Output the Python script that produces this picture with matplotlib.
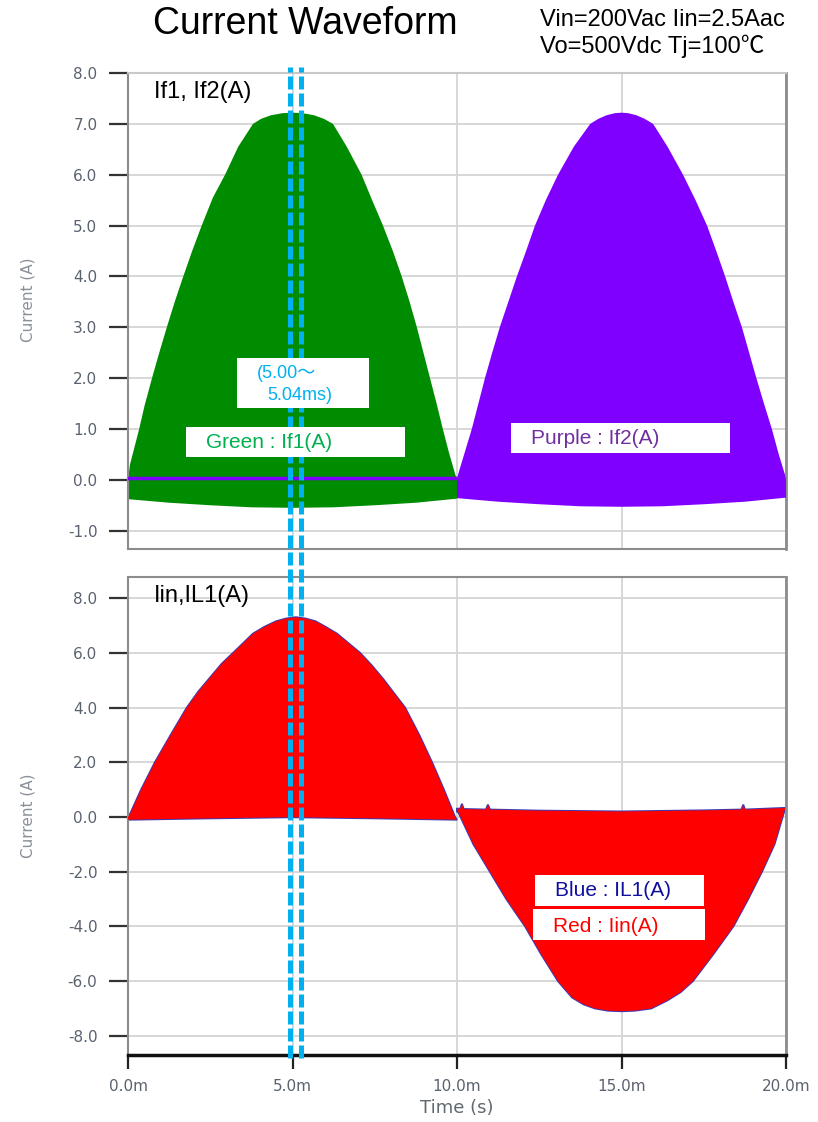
import matplotlib
matplotlib.use("Agg")
import matplotlib.pyplot as plt
from matplotlib.patches import Rectangle

# ---- data (time in ms, current in A) ----
# If1 (green): upper / lower envelope of the PWM switch current
t_if1_hi = [0.0, 0.06, 0.34, 0.5, 0.73, 0.95, 1.18, 1.42, 1.68, 1.95, 2.24, 2.58, 2.95, 3.35, 3.8,
            4.05, 4.35, 4.7, 5.0, 5.3, 5.65, 5.95, 6.23, 6.65, 7.1, 7.42, 7.75, 8.05, 8.32,
            8.56, 8.78, 8.98, 9.18, 9.38, 9.57, 9.75, 9.95, 10.0]
if1_hi = [0.0, 0.3, 1.0, 1.45, 2.0, 2.5, 3.0, 3.5, 4.0, 4.5, 5.0, 5.55, 6.0, 6.55, 7.0,
          7.1, 7.17, 7.21, 7.22, 7.21, 7.17, 7.1, 7.0, 6.55, 6.0, 5.5, 5.0, 4.5, 4.0,
          3.5, 3.0, 2.5, 2.0, 1.5, 1.0, 0.55, 0.1, 0.0]
t_if1_lo = [0.0, 1.25, 2.5, 3.75, 5.0, 6.25, 7.5, 8.75, 10.0]
if1_lo = [-0.38, -0.45, -0.50, -0.54, -0.55, -0.54, -0.50, -0.45, -0.37]

# If2 (purple)
t_if2_hi = [10.0, 10.03, 10.45, 10.65, 10.85, 11.07, 11.3, 11.56, 11.82, 12.1, 12.37, 12.7, 13.07,
            13.55, 14.05, 14.3, 14.55, 14.8, 15.0, 15.2, 15.45, 15.7, 15.96, 16.4, 16.87, 17.25,
            17.6, 17.88, 18.15, 18.4, 18.66, 18.88, 19.1, 19.33, 19.57, 19.78, 19.97, 20.0]
if2_hi = [0.0, 0.1, 1.0, 1.5, 2.0, 2.5, 3.0, 3.5, 4.0, 4.5, 5.0, 5.5, 6.0,
          6.55, 7.0, 7.1, 7.17, 7.21, 7.22, 7.21, 7.17, 7.1, 7.0, 6.55, 6.0, 5.5,
          5.0, 4.5, 4.0, 3.5, 3.0, 2.5, 2.0, 1.5, 1.0, 0.5, 0.1, 0.0]
t_if2_lo = [10.0, 11.25, 12.5, 13.75, 15.0, 16.25, 17.5, 18.75, 20.0]
if2_lo = [-0.36, -0.43, -0.48, -0.52, -0.53, -0.52, -0.48, -0.43, -0.35]

# each switch carries ~0 A in the other half cycle
t_if2_idle = [0.0, 10.0]
if2_idle = [0.03, 0.03]
t_if1_idle = [10.0, 20.0]
if1_idle = [0.03, 0.03]

# Iin (red) / IL1 (blue), positive half
t_pos_hi = [0.0, 0.06, 0.4, 0.82, 1.3, 1.79, 2.15, 2.5, 2.85, 3.2, 3.5, 3.8, 4.15, 4.5, 4.8, 5.1,
            5.4, 5.7, 6.0, 6.35, 6.7, 7.05, 7.4, 7.75, 8.1, 8.42, 8.85, 9.24, 9.6, 9.94, 10.0]
iin_pos_hi = [0.0, 0.1, 1.0, 2.0, 3.0, 4.0, 4.6, 5.1, 5.6, 6.0, 6.35, 6.7, 6.95, 7.15, 7.25, 7.3,
              7.25, 7.15, 6.95, 6.7, 6.35, 6.0, 5.55, 5.05, 4.5, 4.0, 3.0, 2.0, 1.0, 0.0, -0.1]
t_pos_lo = [0.0, 2.5, 5.0, 7.5, 10.0]
iin_pos_lo = [-0.1, -0.05, -0.01, -0.05, -0.1]

# negative half
t_neg_lo = [10.0, 10.03, 10.5, 11.0, 11.5, 12.07, 12.55, 13.07, 13.5, 13.85, 14.2, 14.6, 15.0,
            15.4, 15.9, 16.4, 16.8, 17.17, 17.8, 18.4, 18.85, 19.27, 19.65, 19.97]
iin_neg_lo = [0.2, 0.2, -1.0, -2.0, -3.0, -4.0, -5.0, -6.0, -6.6, -6.85, -7.0, -7.08, -7.1,
              -7.08, -7.0, -6.7, -6.4, -6.0, -5.0, -4.0, -3.0, -2.0, -1.0, 0.3]
# upper rim, with the few switching spikes that stick out
t_neg_hi = [10.0, 10.1, 10.15, 10.2, 10.88, 10.94, 11.0, 12.5, 15.0, 17.5,
            18.65, 18.7, 18.75, 19.97]
iin_neg_hi = [0.3, 0.3, 0.48, 0.29, 0.27, 0.45, 0.27, 0.23, 0.2, 0.24,
              0.27, 0.45, 0.27, 0.33]

cursor_ms = [4.93, 5.26]

x_ticks = [0, 5, 10, 15, 20]
x_ticklabels = ["0.0m", "5.0m", "10.0m", "15.0m", "20.0m"]
top_yticks = [-1, 0, 1, 2, 3, 4, 5, 6, 7, 8]
bot_yticks = [-8, -6, -4, -2, 0, 2, 4, 6, 8]

plt.rcParams["font.family"] = ["Liberation Sans", "Noto Sans CJK JP", "DejaVu Sans"]

W, H = 818, 1122


def fx(x):
    return x / W


def fy(y):
    return 1 - y / H


def band(ax, t_hi, hi, t_lo, lo, **kw):
    # closed outline: upper envelope forward, lower envelope back
    xs = list(t_hi) + list(t_lo)[::-1]
    ys = list(hi) + list(lo)[::-1]
    return ax.fill(xs, ys, **kw)


fig = plt.figure(figsize=(W / 100, H / 100), dpi=100)
ax1 = fig.add_axes([fx(128), fy(549), 658 / W, 476 / H])
ax2 = fig.add_axes([fx(128), fy(1055), 658 / W, 478 / H])

tick_font = dict(family="DejaVu Sans", size=11, color="#5a6270")
grid_col = "#d4d4d4"

for ax in (ax1, ax2):
    ax.set_xlim(0, 20)
    ax.set_xticks(x_ticks)
    ax.grid(True, color=grid_col, linewidth=1.3)
    ax.set_axisbelow(True)
    for s in ("left", "top", "right", "bottom"):
        ax.spines[s].set_color("#8c8c8c")
        ax.spines[s].set_linewidth(1.5)
    ax.spines["right"].set_linewidth(2)
    ax.tick_params(axis="y", direction="out", length=14, width=1.6,
                   color="#333333", pad=8)
    ax.set_ylabel("Current (A)", family="DejaVu Sans", size=11, color="#8a9098")

ax1.yaxis.set_label_coords(-0.141, 0.523)
ax2.yaxis.set_label_coords(-0.141, 0.5)

# ---- top panel: If1 / If2 ----
ax1.set_ylim(-1.36, 8.0)
ax1.set_yticks(top_yticks)
ax1.set_yticklabels([f"{v:.1f}" for v in top_yticks], **tick_font)
ax1.tick_params(axis="x", length=0, labelbottom=False)
ax1.spines["top"].set_color("#c8c8c8")

band(ax1, t_if1_hi, if1_hi, t_if1_lo, if1_lo, facecolor="#008c00", edgecolor="none", zorder=2)
ax1.plot(t_if1_idle, if1_idle, color="#008c00", linewidth=2.5, zorder=2)
band(ax1, t_if2_hi, if2_hi, t_if2_lo, if2_lo, facecolor="#8000ff", edgecolor="none", zorder=3)
ax1.plot(t_if2_idle, if2_idle, color="#8000ff", linewidth=2.5, zorder=4)

ax1.text(0.04, 0.984, "If1, If2(A)", transform=ax1.transAxes, fontsize=17,
         va="top", ha="left", color="black")

# ---- bottom panel: Iin / IL1 ----
ax2.set_ylim(-8.7, 8.77)
ax2.set_yticks(bot_yticks)
ax2.set_yticklabels([f"{v:.1f}" for v in bot_yticks], **tick_font)
ax2.set_xticklabels(x_ticklabels, **tick_font)
ax2.tick_params(axis="x", direction="out", length=10, width=1.6,
                color="#222222", pad=7)
ax2.spines["bottom"].set_color("#111111")
ax2.spines["bottom"].set_linewidth(2.5)
ax2.set_xlabel("Time (s)", family="DejaVu Sans", size=13, color="#606870", labelpad=4)

# IL1 (blue) shows only as a thin rim around Iin (red)
band(ax2, t_pos_hi, iin_pos_hi, t_pos_lo, iin_pos_lo, facecolor="none",
     edgecolor="#3a3ab4", linewidth=1.4, zorder=2)
band(ax2, t_neg_hi, iin_neg_hi, t_neg_lo, iin_neg_lo, facecolor="none",
     edgecolor="#3a3ab4", linewidth=1.4, zorder=2)
band(ax2, t_pos_hi, iin_pos_hi, t_pos_lo, iin_pos_lo, facecolor="#ff0000",
     edgecolor="none", zorder=3)
band(ax2, t_neg_hi, iin_neg_hi, t_neg_lo, iin_neg_lo, facecolor="#ff0000",
     edgecolor="none", zorder=3)

ax2.text(0.04, 0.984, "Iin,IL1(A)", transform=ax2.transAxes, fontsize=17,
         va="top", ha="left", color="black")

# cursor lines spanning both panels
for x in cursor_ms:
    ax2.axvline(x, ymin=-3 / 478, ymax=(1055 - 67) / 478, clip_on=False,
                color="#00b0f0", linewidth=3.6, dashes=(2.6, 0.8), zorder=10)

# ---- annotation boxes ----
boxes = [
    ((237, 358, 369, 408), None, None, None),
    ((186, 427, 405, 457), 206, 443, ("Green : If1(A)", "#00b050")),
    ((511, 423, 730, 453), 531, 439, ("Purple : If2(A)", "#7030a0")),
    ((535, 875, 704, 906), 555, 891, ("Blue : IL1(A)", "#1010a0")),
    ((533, 909, 705, 940), 553, 926, ("Red : Iin(A)", "#ff0000")),
]
for (x0, y0, x1, y1), xt, yt, lab in boxes:
    fig.add_artist(Rectangle((fx(x0), fy(y1)), (x1 - x0) / W, (y1 - y0) / H,
                             transform=fig.transFigure, facecolor="white",
                             edgecolor="none", zorder=20))
    if lab:
        fig.text(fx(xt), fy(yt), lab[0], color=lab[1], fontsize=15,
                 va="center", ha="left", zorder=21)

fig.text(fx(257), fy(374), "(5.00～", color="#00b0f0", fontsize=13,
         va="center", ha="left", zorder=21)
fig.text(fx(267), fy(395), "5.04ms)", color="#00b0f0", fontsize=13,
         va="center", ha="left", zorder=21)

# ---- titles ----
fig.text(fx(305), fy(24), "Current Waveform", fontsize=27, ha="center",
         va="center", color="black")
fig.text(fx(540), fy(20), "Vin=200Vac Iin=2.5Aac", fontsize=17, ha="left",
         va="center", color="black")
fig.text(fx(540), fy(46), "Vo=500Vdc Tj=100℃", fontsize=17, ha="left",
         va="center", color="black")

fig.savefig("out.png", dpi=100)
